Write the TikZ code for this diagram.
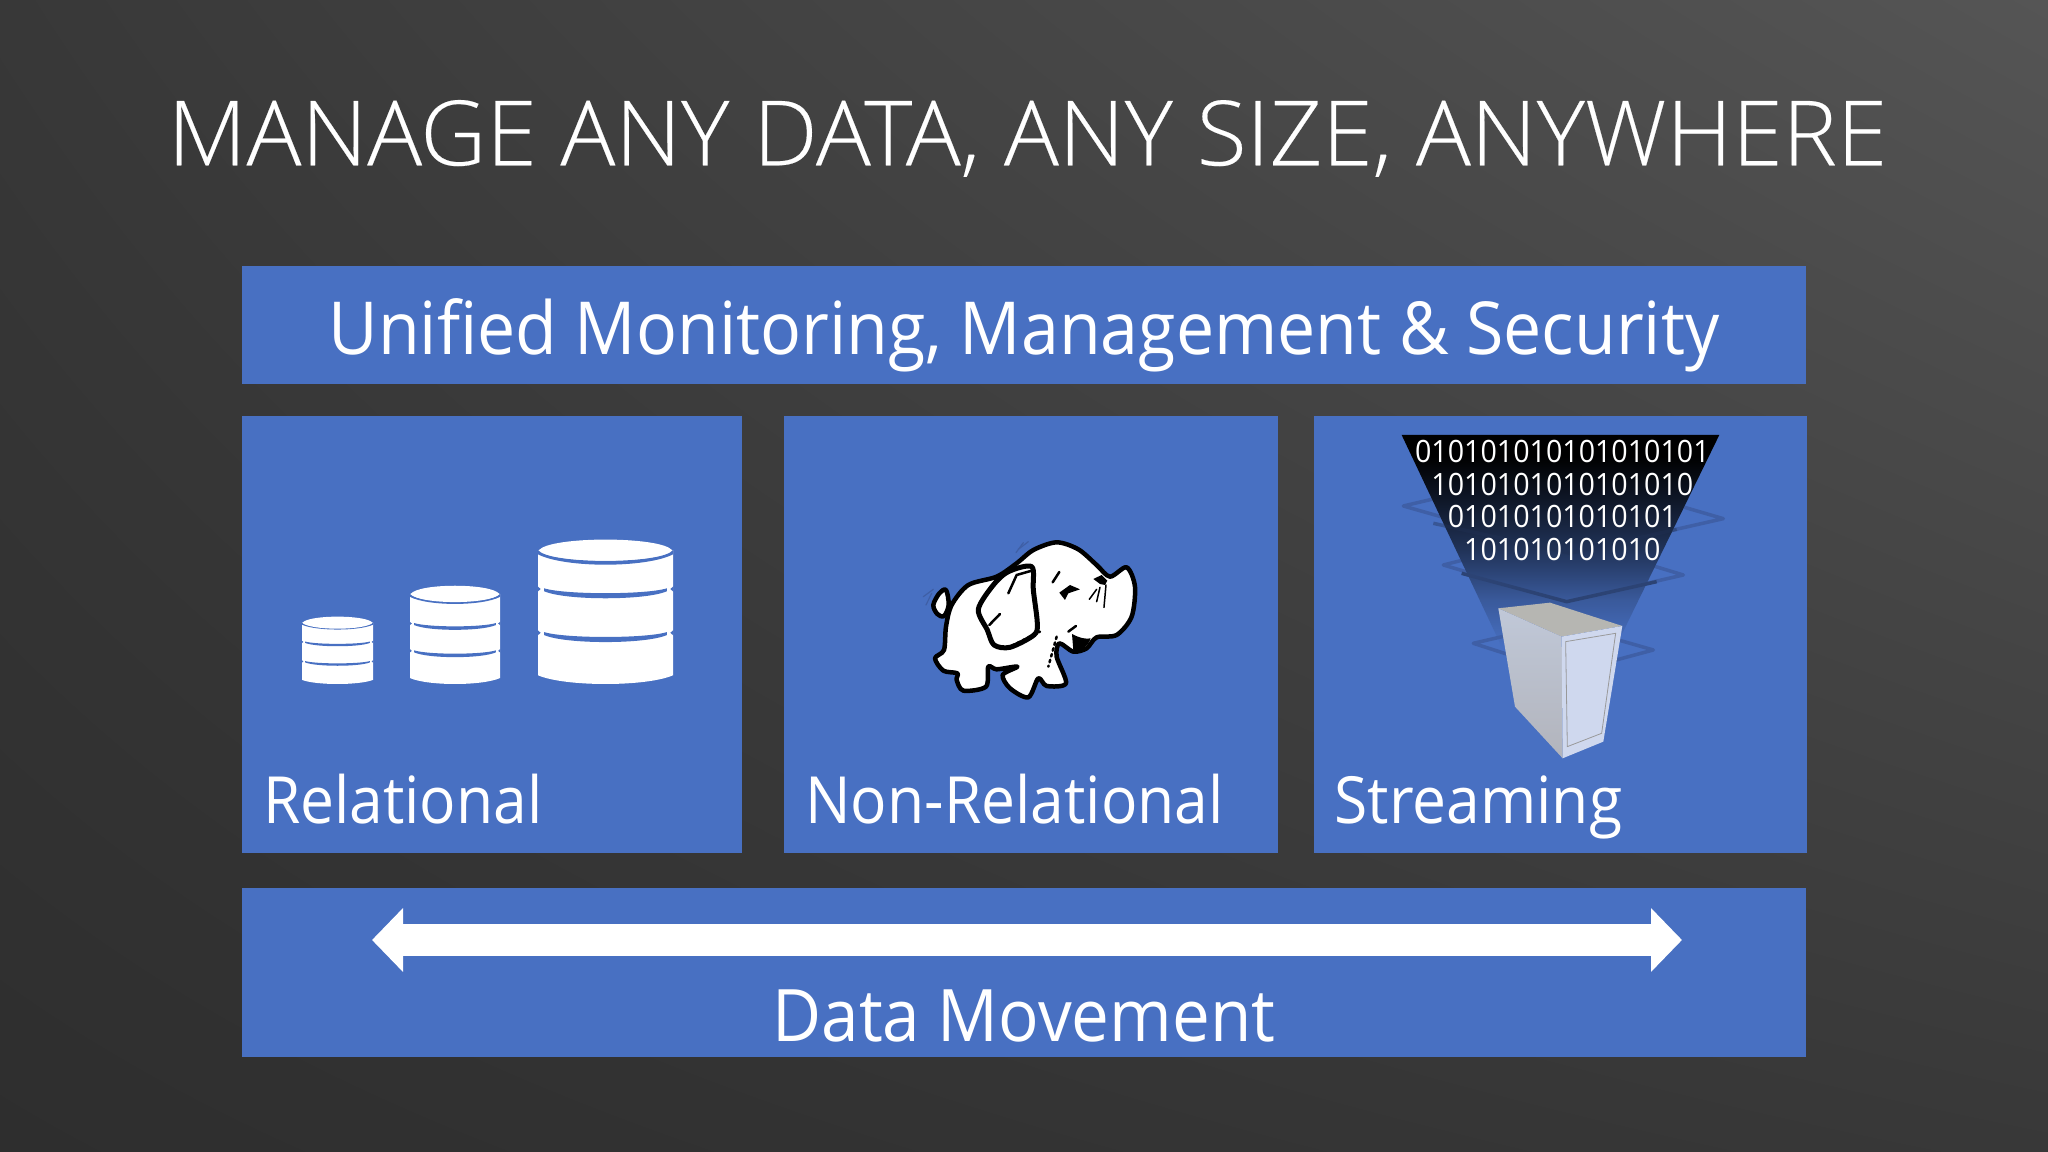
\documentclass[tikz,border=0pt]{standalone}
\usepackage{fontspec}
\setmainfont{Open Sans}[FakeStretch=0.93]
\newfontfamily\titlefont{Open Sans Light}[FakeStretch=1.015, FakeBold=0.2]
\usetikzlibrary{positioning, arrows.meta, shadings}
\definecolor{panelblue}{HTML}{4870C2}
\definecolor{ringblue}{HTML}{3F5FA6}
\definecolor{bgdark}{HTML}{2E2E2E}
\definecolor{bgmid}{HTML}{383838}
\definecolor{bglight}{HTML}{555555}
\definecolor{servertop}{HTML}{B6B6B2}
\definecolor{serverside}{HTML}{C0C8D8}
\definecolor{serverlow}{HTML}{B2B4BC}
\definecolor{serverfront}{HTML}{CFD8EE}
\pgfdeclareverticalshading{funnelfade}{100bp}{
    color(0bp)=(panelblue); color(25bp)=(panelblue);
    color(36bp)=(panelblue!80!black); color(48bp)=(panelblue!45!black);
    color(60bp)=(panelblue!20!black); color(70bp)=(black); color(100bp)=(black)}

\begin{document}
\begin{tikzpicture}[
        x=0.01cm, y=-0.01cm,
        node distance=0.32cm and 0.4cm,
        panel/.style={fill=panelblue, text=white, outer sep=0pt, inner sep=0pt, align=center},
        caption/.style={text=white, inner sep=0pt, outer sep=0pt, text depth=0pt, font=\fontsize{18.5}{20}\selectfont},
        bits/.style={text=white, inner sep=0pt, outer sep=0pt, font=\fontsize{8.75}{9}\selectfont},
        ring/.style={draw=ringblue, line width=0.035cm, line join=round},
        inky/.style={draw=black, fill=white, line width=0.045cm, line join=round},
        stroke/.style={draw=black, line width=0.025cm, line cap=round},
        wiggle/.style={draw=ringblue, line width=0.012cm, line cap=round}
    ]
    \useasboundingbox (0,0) rectangle (2048,1152);
    \shade[lower left=bgdark, lower right=bgmid, upper left=bgmid, upper right=bglight] (0,0) rectangle (2048,1152);

    % Titel
    \node (title) [text=white, inner sep=0pt, text depth=0pt, anchor=south west, font=\titlefont\fontsize{25.6}{28}\selectfont] at (167,166) {MANAGE ANY DATA, ANY SIZE, ANYWHERE};

    % Flaechen
    \node (monitor) [panel, anchor=north west, minimum width=15.63cm, minimum height=1.18cm] at (242,266) {};
    \node (rel) [panel, below=of monitor.south west, anchor=north west, minimum width=5cm, minimum height=4.37cm] {};
    \node (nonrel) [panel, right=0.42cm of rel, minimum width=4.93cm, minimum height=4.37cm] {};
    \node (stream) [panel, right=0.36cm of nonrel, minimum width=4.93cm, minimum height=4.37cm] {};
    \node (move) [panel, below=0.35cm of rel.south west, anchor=north west, minimum width=15.63cm, minimum height=1.69cm] {};

    % Beschriftungen
    \node (monitorLabel) [caption, above=0.30cm of monitor.south, font=\fontsize{20.8}{22}\selectfont] {Unified Monitoring, Management \& Security};
    \node (relLabel) [caption, above right=0.30cm and 0.21cm of rel.south west] {Relational};
    \node (nonrelLabel) [caption, above right=0.30cm and 0.21cm of nonrel.south west] {Non-Relational};
    \node (streamLabel) [caption, above right=0.30cm and 0.21cm of stream.south west] {Streaming};
    \node (moveLabel) [caption, above=0.16cm of move.south, font=\fontsize{20.6}{22}\selectfont] {Data Movement};

    % Pfeil
    \coordinate (moveL) at (372,940);
    \coordinate (moveR) at (1682,940);
    \draw[white, line width=0.31cm, {Triangle[length=0.31cm,width=0.62cm]}-{Triangle[length=0.31cm,width=0.62cm]}] (moveL) -- (moveR);

    % Datenbanken
    \foreach \dbx/\dby/\dbw/\dbh/\dbt/\dba/\dbb in {337.5/616/35.5/68/0.098/0.376/0.663, 455/585/45/99/0.09/0.384/0.66, 605.5/539/67.5/145/0.076/0.34/0.642} {
        \begin{scope}[shift={(\dbx,\dby)}, xscale=\dbw, yscale=\dbh]
            \fill[white] (-1,\dbt) -- (-1,0.94) .. controls (-0.6,1.02) and (0.6,1.02) .. (1,0.94) -- (1,\dbt) -- cycle;
            \fill[panelblue] (-1,\dbt) .. controls (-0.85,\dbt+0.1) and (0.85,\dbt+0.1) .. (1,\dbt) -- (1,\dbt+0.03)
                .. controls (0.6,\dbt+0.125) and (-0.6,\dbt+0.125) .. (-1,\dbt+0.03) -- cycle;
            \fill[white] (-0.985,\dbt) .. controls (-0.8,-0.02) and (0.8,-0.02) .. (0.985,\dbt)
                .. controls (0.8,2*\dbt+0.02) and (-0.8,2*\dbt+0.02) .. (-0.985,\dbt) -- cycle;
            \foreach \sepy in {\dba,\dbb} {
                \fill[panelblue] (-0.91,\sepy) .. controls (-0.6,\sepy+0.045) and (0.6,\sepy+0.045) .. (0.91,\sepy)
                    -- (0.91,\sepy+0.02) .. controls (0.6,\sepy+0.085) and (-0.6,\sepy+0.085) .. (-0.91,\sepy+0.02) -- cycle;
                \fill[panelblue] (-1.01,\sepy-0.015) -- (-0.96,\sepy+0.005) -- (-1.01,\sepy+0.025) -- cycle;
                \fill[panelblue] (1.01,\sepy-0.015) -- (0.96,\sepy+0.005) -- (1.01,\sepy+0.025) -- cycle;
            }
        \end{scope}
    }

    % Elefant
    \begin{scope}[shift={(900,510)}, scale=0.3333]
        \draw[inky, fill=white] plot[smooth cycle, tension=0.55] coordinates {(100,285) (118,250) (138,240) (146,285) (132,318) (112,312)};
        \draw[inky] plot[smooth cycle, tension=0.5] coordinates {(470,97) (535,118) (590,165) (630,200) (680,172) (705,230) (695,320) (650,375) (590,382) (560,415) (520,425) (478,400) (470,440) (498,520) (440,528) (415,505) (385,562) (330,535) (308,495) (352,470) (290,478) (265,470) (258,530) (190,542) (170,510) (172,490) (130,482) (105,445) (132,420) (138,350) (155,285) (205,225) (290,200) (350,160) (400,120)};
        \draw[inky, line width=0.05cm] plot[smooth cycle, tension=0.5] coordinates {(395,170) (325,185) (280,225) (235,298) (262,360) (282,405) (330,412) (402,375) (412,340) (400,240)};
        % Gesicht
        \fill[black] (478,248) -- (510,225) -- (540,238) -- (505,250) -- (495,270) -- cycle;
        \fill[black] (580,207) -- (605,195) -- (622,212) -- (615,225) -- (600,222) -- cycle;
        \draw[stroke, line width=0.015cm] (568,268) -- (590,238);
        \draw[stroke, line width=0.015cm] (590,275) -- (600,232);
        \draw[stroke, line width=0.015cm] (612,292) -- (618,225);
        \fill[black] (516,372) .. controls (540,385) and (560,388) .. (572,385) .. controls (565,410) and (535,430) .. (520,420) -- cycle;
        \draw[stroke] (458,217) -- (478,186);
        \draw[stroke] (505,365) -- (528,348);
        \draw[stroke] (325,250) -- (350,195) -- (392,183);
        \draw[stroke] (268,345) -- (300,312);
        \draw[stroke, densely dotted] (320,415) -- (420,365);
        \draw[stroke, densely dotted] (470,380) -- (445,470);
        \draw[wiggle] (348,128) -- (370,98);
        \draw[wiggle] (355,118) -- (385,95);
        \draw[wiggle] (70,260) -- (100,238);
        \draw[wiggle] (78,285) -- (95,250);
    \end{scope}

    % Streaming
    \begin{scope}[shift={(1370,420)}, scale=0.3333]
        \draw[ring] (100,258) -- (560,150) -- (1060,296) -- (600,400) -- cycle;
        \draw[ring] (220,435) -- (560,350) -- (940,465) -- (590,545) -- cycle;
        \shade[shading=funnelfade] (95,45) -- (1048,45) -- (757,640) -- (395,680) -- cycle;
        \draw[ring, draw=ringblue!50!black, opacity=0.4] (190,310) -- (600,400) -- (920,328);
        \draw[ring, draw=ringblue!70!black] (275,460) -- (590,545) -- (860,485);
        \draw[ring] (310,670) -- (570,610) -- (850,690) -- (590,760) -- cycle;
        % Server
        \fill[servertop] (385,565) -- (540,548) -- (757,618) -- (575,650) -- cycle;
        \shade[top color=serverside, bottom color=serverlow] (385,565) -- (575,650) -- (578,1015) -- (435,860) -- cycle;
        \fill[serverfront] (575,650) -- (757,618) -- (700,965) -- (578,1015) -- cycle;
        \draw[gray!80, line width=0.008cm] (587,665) -- (737,640) -- (695,940) -- (592,980) -- cycle;
        % Bitfolge
        \node (bitsA) [bits] at (577,95) {010101010101010101};
        \node (bitsB) [bits, below=0.1cm of bitsA] {1010101010101010};
        \node (bitsC) [bits, below=0.1cm of bitsB] {01010101010101};
        \node (bitsD) [bits, below=0.1cm of bitsC] {101010101010};
    \end{scope}
\end{tikzpicture}
\end{document}
